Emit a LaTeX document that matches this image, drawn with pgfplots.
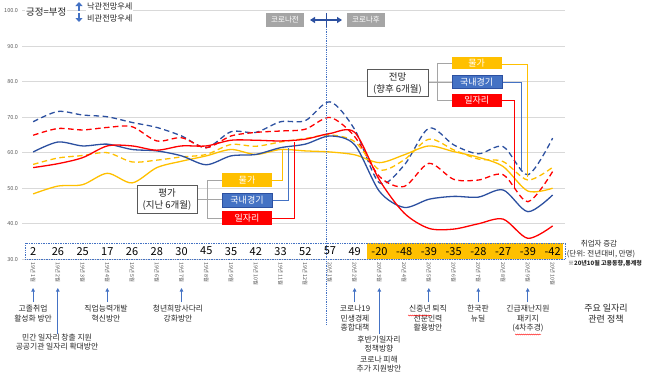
\documentclass[border=0pt]{standalone}
\usepackage{fontspec}
\setmainfont{Noto Sans CJK KR}
\usepackage{pgfplots}
\usepackage{pgfplotstable}
\pgfplotsset{compat=1.18}
\usetikzlibrary{arrows.meta,decorations.pathmorphing}
\definecolor{lblue}{RGB}{44,80,160}
\definecolor{bxblue}{RGB}{68,114,196}
\definecolor{gold}{RGB}{255,192,0}
\definecolor{myred}{RGB}{255,0,0}
\definecolor{gridc}{RGB}{217,217,217}
\definecolor{tickc}{RGB}{89,89,89}
\definecolor{boxgray}{RGB}{165,165,165}
\definecolor{txt}{RGB}{38,38,38}

\pgfplotstableread{
i bd rd bs rs ys yd
0 68.7 64.9 60.2 55.8 48.4 56.7
1 71.6 66.8 63.0 56.9 50.6 58.5
2 70.6 66.4 61.9 58.6 51.0 59.2
3 70.1 67.1 62.4 61.9 54.2 60.0
4 68.5 67.3 60.9 61.9 51.5 57.4
5 67.1 63.3 60.5 60.7 55.8 57.9
6 64.7 64.2 59.1 61.9 57.6 58.8
7 61.4 61.4 56.6 61.9 59.1 59.5
8 65.9 64.7 59.1 63.5 60.9 62.3
9 65.7 65.7 59.5 63.5 59.5 61.8
10 68.7 66.1 61.4 63.3 60.9 63.0
11 69.0 66.6 62.4 63.8 60.5 64.0
12 74.3 69.9 64.7 65.4 60.2 65.0
13 66.5 64.5 62.2 65.7 59.4 63.1
14 51.5 53.3 49.1 52.3 57.2 55.2
15 56.5 50.5 44.6 43.0 59.4 58.0
16 66.9 57.0 46.9 38.7 61.9 63.8
17 62.2 52.5 47.7 38.5 60.3 60.8
18 59.7 52.3 47.5 40.0 58.7 58.2
19 61.7 53.8 49.5 41.3 56.1 57.5
20 53.8 46.2 43.4 35.9 49.2 52.3
21 64.1 54.7 48.1 39.4 50.0 55.9
}\data

\begin{document}
\begin{tikzpicture}[x=1pt,y=1pt]
\useasboundingbox (0,0) rectangle (650,-375);
\begin{axis}[at={(22pt,-259.3pt)}, anchor=south west, scale only axis,
  width=543pt, height=248.8pt, xmin=-0.45, xmax=21.5, ymin=30, ymax=100,
  axis line style={draw=none}, major tick length=0pt, clip=false,
  ytick={30,40,50,60,70,80,90,100}, ymajorgrids, grid style={gridc, line width=0.7pt},
  /pgf/number format/assume math mode=true,
  yticklabel={\pgfmathprintnumber[fixed,fixed zerofill,precision=1]{\tick}},
  yticklabel style={font=\fontsize{5.5}{6}\selectfont, text=tickc, xshift=-0.5pt},
  xtick={0,...,21},
  xticklabels={19년 1월,19년 2월,19년 3월,19년 4월,19년 5월,19년 6월,19년 7월,19년 8월,19년 9월,19년 10월,19년 11월,19년 12월,20년 1월,20년 2월,20년 3월,20년 4월,20년 5월,20년 6월,20년 7월,20년 8월,20년 9월,20년 10월},
  xticklabel style={rotate=-90, anchor=west, font=\fontsize{5.3}{5.5}\selectfont, text=txt!80},
]
% number row
\fill[gold] (axis cs:13.5,30) rectangle (axis cs:21.42,34.6);
\draw[bxblue, densely dotted, line width=0.7pt] (axis cs:-0.33,30) rectangle (axis cs:21.5,34.6);

\addplot[lblue, line width=1.3pt, dash pattern=on 5.5pt off 3.5pt, smooth, tension=0.5] table[x=i,y=bd]{\data};
\addplot[myred, line width=1.3pt, dash pattern=on 5.5pt off 3.5pt, smooth, tension=0.5] table[x=i,y=rd]{\data};
\addplot[gold, line width=1.3pt, dash pattern=on 5.5pt off 3.5pt, smooth, tension=0.5] table[x=i,y=yd]{\data};
\addplot[gold, line width=1.3pt, smooth, tension=0.5] table[x=i,y=ys]{\data};
\addplot[lblue, line width=1.3pt, smooth, tension=0.5] table[x=i,y=bs]{\data};
\addplot[myred, line width=1.3pt, smooth, tension=0.5] table[x=i,y=rs]{\data};

\begin{scope}[every node/.style={font=\fontsize{11}{12}\selectfont, text=black}]
\node at (axis cs:0,32.3) {2};
\node at (axis cs:1,32.3) {26};
\node at (axis cs:2,32.3) {25};
\node at (axis cs:3,32.3) {17};
\node at (axis cs:4,32.3) {26};
\node at (axis cs:5,32.3) {28};
\node at (axis cs:6,32.3) {30};
\node at (axis cs:7,32.3) {45};
\node at (axis cs:8,32.3) {35};
\node at (axis cs:9,32.3) {42};
\node at (axis cs:10,32.3) {33};
\node at (axis cs:11,32.3) {52};
\node at (axis cs:12,32.3) {57};
\node at (axis cs:13,32.3) {49};
\node at (axis cs:14,32.3) {-20};
\node at (axis cs:15,32.3) {-48};
\node at (axis cs:16,32.3) {-39};
\node at (axis cs:17,32.3) {-35};
\node at (axis cs:18,32.3) {-28};
\node at (axis cs:19,32.3) {-27};
\node at (axis cs:20,32.3) {-39};
\node at (axis cs:21,32.3) {-42};
\end{scope}
\end{axis}

% divider
\draw[bxblue, densely dotted, line width=0.8pt] (326,-27) -- (326,-325);
\draw[lblue, line width=1pt] (326,-13) -- (326,-27);
\draw[{Triangle[width=6pt,length=5pt]}-{Triangle[width=6pt,length=5pt]}, lblue, line width=1.4pt] (310,-20) -- (342,-20);
\node[fill=boxgray, text=white, minimum width=38pt, minimum height=14pt, inner sep=0, font=\fontsize{7.5}{8}\selectfont] at (285,-20) {코로나전};
\node[fill=boxgray, text=white, minimum width=38pt, minimum height=14pt, inner sep=0, font=\fontsize{7.5}{8}\selectfont] at (366,-20) {코로나후};

% top-left legend
\node[anchor=west, fill=white, inner sep=1pt, font=\fontsize{9.5}{10}\selectfont, text=txt] at (25,-12) {긍정=부정};
\draw[-{Triangle[width=7pt,length=4pt]}, bxblue, line width=2.5pt] (79,-11) -- (79,-2);
\draw[-{Triangle[width=7pt,length=4pt]}, bxblue, line width=2.5pt] (79,-13) -- (79,-22);
\node[anchor=west, fill=white, inner sep=1pt, font=\fontsize{8.2}{9}\selectfont, text=txt] at (86,-6) {낙관전망우세};
\node[anchor=west, fill=white, inner sep=1pt, font=\fontsize{8.2}{9}\selectfont, text=txt] at (86,-18) {비관전망우세};

% 전망 legend
\draw[boxgray, line width=0.8pt] (428,-82.5) -- (437,-82.5) (452,-63) -- (437,-63) -- (437,-100) -- (452,-100) (437,-82) -- (452,-82);
\node[draw=tickc, fill=white, line width=0.8pt, minimum width=61pt, minimum height=27pt, align=center, inner sep=0, font=\fontsize{9.5}{12}\selectfont, text=txt] at (397.5,-83.3) {전망\\(향후 6개월)};
\draw[gold, line width=1pt] (500,-64) -- (527,-64) -- (527,-177);
\draw[bxblue, line width=1pt] (500,-82) -- (521,-82) -- (521,-170);
\draw[myred, line width=1pt] (500,-100.5) -- (514,-100.5) -- (514,-188);
\node[fill=gold, text=white, minimum width=50pt, minimum height=12.5pt, inner sep=0, font=\fontsize{9}{10}\selectfont] at (476.7,-63) {물가};
\node[fill=bxblue, draw=lblue, text=white, minimum width=50pt, minimum height=13pt, inner sep=0, font=\fontsize{9}{10}\selectfont] at (476.7,-81.7) {국내경기};
\node[fill=myred, text=white, minimum width=50pt, minimum height=13pt, inner sep=0, font=\fontsize{9}{10}\selectfont] at (476.7,-100) {일자리};

% 평가 legend
\draw[boxgray, line width=0.8pt] (197,-199.5) -- (207,-199.5) (222,-180) -- (207,-180) -- (207,-218) -- (222,-218) (207,-199.7) -- (222,-199.7);
\node[draw=tickc, fill=white, line width=0.8pt, minimum width=60pt, minimum height=28pt, align=center, inner sep=0, font=\fontsize{9.5}{12}\selectfont, text=txt] at (167,-199) {평가\\(지난 6개월)};
\draw[gold, line width=1pt] (270,-180) -- (282,-180) -- (282,-150);
\draw[bxblue, line width=1pt] (270,-200) -- (288,-200) -- (288,-148);
\draw[myred, line width=1pt] (270,-218) -- (294,-218) -- (294,-142);
\node[fill=gold, text=white, minimum width=50pt, minimum height=14pt, inner sep=0, font=\fontsize{9}{10}\selectfont] at (247,-180) {물가};
\node[fill=bxblue, draw=lblue, text=white, minimum width=50pt, minimum height=14pt, inner sep=0, font=\fontsize{9}{10}\selectfont] at (247,-199.7) {국내경기};
\node[fill=myred, text=white, minimum width=50pt, minimum height=14pt, inner sep=0, font=\fontsize{9}{10}\selectfont] at (247,-218) {일자리};

% number row caption
\node[font=\fontsize{7.5}{8}\selectfont, text=txt] at (599,-244) {취업자 증감};
\node[font=\fontsize{7.5}{8}\selectfont, text=txt] at (601,-254.5) {(단위: 전년대비, 만명)};
\node[font=\fontsize{6}{7}\selectfont\bfseries, text=txt] at (605,-264) {※20년10월 고용동향,통계청};

% policy arrows
\begin{scope}[bxblue, line width=0.8pt, -{Triangle[width=3.5pt,length=3.5pt]}]
\draw (33.1,-302) -- (33.1,-288);
\draw (57.8,-334) -- (57.8,-288);
\draw (107.3,-302) -- (107.3,-288);
\draw (181.5,-302) -- (181.5,-288);
\draw (354.6,-302) -- (354.6,-288);
\draw (379.3,-334) -- (379.3,-288);
\draw (428.8,-302) -- (428.8,-288);
\draw (478.3,-302) -- (478.3,-288);
\draw (527.7,-302) -- (527.7,-288);
\end{scope}
\begin{scope}[every node/.style={anchor=north, align=center, inner sep=0, font=\fontsize{7.8}{9.6}\selectfont, text=txt}]
\node at (33.1,-305) {고졸취업\\활성화 방안};
\node at (57,-333.5) {민간 일자리 창출 지원\\공공기관 일자리 확대방안};
\node at (106,-305) {직업능력개발\\혁신방안};
\node at (178,-305) {청년희망사다리\\강화방안};
\node at (355,-305) {코로나19\\민생경제\\종합대책};
\node at (379,-335.5) {후반기일자리\\정책방향\\[1pt]코로나 피해\\추가 지원방안};
\node at (428,-305) {신중년 퇴직\\전문인력\\활용방안};
\node at (478,-305) {한국판\\뉴딜};
\node at (528,-305) {긴급재난지원\\패키지\\(4차추경)};
\node[font=\fontsize{9}{11}\selectfont] at (606,-304) {주요 일자리\\관련 정책};
\end{scope}
\draw[myred, line width=0.4pt, decorate, decoration={snake, amplitude=0.5pt, segment length=2pt}] (408,-315.5) -- (431,-315.5);
\draw[myred, line width=0.4pt, decorate, decoration={snake, amplitude=0.5pt, segment length=2pt}] (515,-334.5) -- (541,-334.5);
\end{tikzpicture}
\end{document}
